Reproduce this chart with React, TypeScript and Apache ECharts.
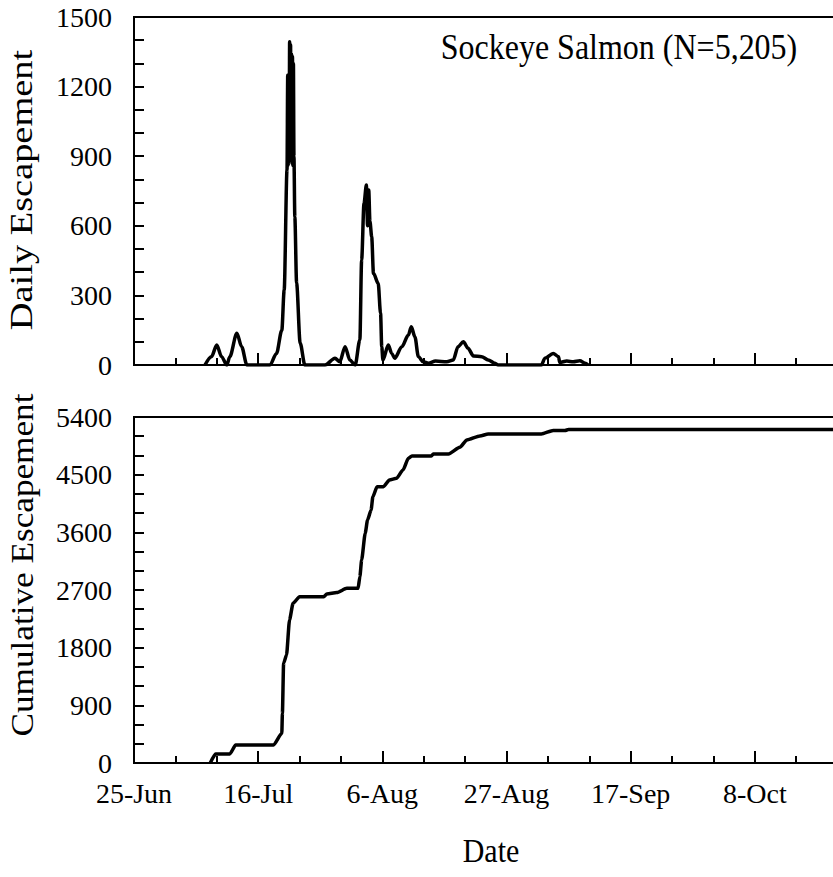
import React, { useEffect, useRef } from "react";
import * as echarts from "echarts";

// x values are days after 25-Jun
const xTickLabels = ["25-Jun", "16-Jul", "6-Aug", "27-Aug", "17-Sep", "8-Oct"];
const dailyYTicks = [0, 300, 600, 900, 1200, 1500];
const cumYTicks = [0, 900, 1800, 2700, 3600, 4500, 5400];

const dailyDay = [12, 13.1, 14, 14.8, 15.7, 16.2, 17.4, 18.2, 19.1, 23, 24.1, 25, 25.4, 25.88, 26.0, 26.08, 26.16, 26.24, 26.32, 26.4, 26.48, 26.56, 26.64, 26.72, 26.8, 26.88, 26.96, 27.05, 27.2, 27.5, 28.1, 28.9, 32.3, 34, 34.8, 35.7, 36.5, 37.4, 38.2, 38.5, 38.9, 39.3, 39.5, 39.7, 39.9, 40.2, 40.5, 41.3, 41.7, 41.9, 42.1, 43, 43.6, 44.1, 45.3, 46.4, 46.9, 47.5, 48.1, 48.9, 49.8, 51, 52.9, 54, 54.8, 55.7, 56.5, 57.4, 58.8, 59.9, 61, 61.6, 68.9, 69.5, 70.9, 71.8, 72, 73.2, 74.3, 75.4, 76.3, 76.8];
const dailyCount = [0, 36, 86, 36, 0, 36, 137, 79, 0, 0, 50, 150, 323, 840, 1250, 860, 1200, 880, 1393, 900, 1380, 880, 1340, 870, 1330, 860, 1300, 900, 639, 353, 95, 0, 0, 29, 14, 79, 22, 0, 108, 453, 697, 776, 600, 754, 620, 553, 395, 352, 223, 79, 22, 86, 50, 29, 79, 129, 165, 122, 36, 14, 8, 17, 14, 22, 79, 100, 72, 39, 36, 22, 8, 0, 0, 29, 50, 36, 11, 17, 14, 18, 8, 0];

const cumDay = [12.9, 13.8, 16.2, 17.2, 23.6, 25, 25.1, 25.3, 25.8, 26.3, 26.9, 28, 32.1, 32.6, 34.3, 36, 37.9, 38.2, 38.5, 39.1, 39.5, 40.1, 40.4, 41.1, 42.2, 43.2, 44.4, 45.5, 46.4, 47, 50.3, 50.6, 53.2, 55.1, 56.3, 58.5, 59.9, 68.9, 70.9, 72.9, 73.5, 125];
const cumCount = [0, 140, 140, 281, 281, 463, 776, 1556, 1686, 2232, 2493, 2596, 2596, 2638, 2660, 2726, 2726, 2908, 3168, 3585, 3793, 3949, 4156, 4312, 4312, 4417, 4443, 4573, 4756, 4792, 4792, 4823, 4823, 4927, 5041, 5104, 5135, 5135, 5190, 5190, 5205, 5205];

const titleText = "Sockeye Salmon (N=5,205)";
const FONT = "'Liberation Serif', 'Times New Roman', serif";

export default function App() {
  const ref = useRef<HTMLDivElement>(null);
  useEffect(() => {
    document.body.style.margin = "0";
    const chart = echarts.init(ref.current!, null, { renderer: "svg" });
    const axisLine = { show: true, lineStyle: { color: "#000", width: 2 } };
    const xAxisBase = (gridIndex: number, showLabel: boolean) => ({
      type: "value",
      gridIndex,
      min: 0,
      max: 126,
      interval: 21,
      axisLine,
      axisTick: { show: true, inside: true, length: 12, lineStyle: { color: "#000", width: 2 } },
      minorTick: { show: true, splitNumber: 3, length: 7, lineStyle: { color: "#000", width: 2 } },
      splitLine: { show: false },
      axisLabel: {
        show: showLabel,
        margin: 16,
        color: "#000",
        fontFamily: FONT,
        fontSize: 28,
        formatter: (v: number) => (v % 21 === 0 && xTickLabels[v / 21] ? xTickLabels[v / 21] : ""),
      },
    });
    const yAxisBase = (gridIndex: number, max: number, interval: number, ticks: number[]) => ({
      type: "value",
      gridIndex,
      min: 0,
      max,
      interval,
      axisLine,
      axisTick: { show: true, inside: true, length: 10, lineStyle: { color: "#000", width: 2 } },
      minorTick: { show: true, splitNumber: 3, length: 10, lineStyle: { color: "#000", width: 2 } },
      splitLine: { show: false },
      axisLabel: {
        margin: 22,
        color: "#000",
        fontFamily: FONT,
        fontSize: 28,
        formatter: (v: number) => (ticks.indexOf(v) >= 0 ? String(v) : ""),
      },
    });
    chart.setOption({
      animation: false,
      backgroundColor: "#fff",
      grid: [
        { left: 134, top: 17, right: -46, height: 348, show: true, borderColor: "#000", borderWidth: 2, containLabel: false, outerBoundsMode: "none" },
        { left: 134, top: 417, right: -46, height: 346, show: true, borderColor: "#000", borderWidth: 2, containLabel: false, outerBoundsMode: "none" },
      ],
      xAxis: [xAxisBase(0, false), xAxisBase(1, true)],
      yAxis: [yAxisBase(0, 1500, 300, dailyYTicks), yAxisBase(1, 5400, 900, cumYTicks)],
      series: [
        {
          type: "line",
          xAxisIndex: 0,
          yAxisIndex: 0,
          data: dailyDay.map((d, i) => [d, dailyCount[i]]),
          showSymbol: false,
          smooth: 0.3,
          smoothMonotone: "x",
          lineStyle: { color: "#000", width: 3.5 },
        },
        {
          type: "line",
          xAxisIndex: 1,
          yAxisIndex: 1,
          data: cumDay.map((d, i) => [d, cumCount[i]]),
          showSymbol: false,
          smooth: 0.2,
          smoothMonotone: "x",
          lineStyle: { color: "#000", width: 3.5 },
        },
      ],
      graphic: [
        {
          type: "text",
          x: 619,
          y: 46,
          scaleY: 1.15,
          style: { text: titleText, fill: "#000", font: `32px ${FONT}`, align: "center", verticalAlign: "middle" },
        },
        {
          type: "text",
          x: 22,
          y: 190,
          rotation: Math.PI / 2,
          scaleX: 1.2,
          style: { text: "Daily Escapement", fill: "#000", font: `32px ${FONT}`, align: "center", verticalAlign: "middle" },
        },
        {
          type: "text",
          x: 22,
          y: 565,
          rotation: Math.PI / 2,
          scaleX: 1.1,
          style: { text: "Cumulative Escapement", fill: "#000", font: `32px ${FONT}`, align: "center", verticalAlign: "middle" },
        },
        {
          type: "text",
          x: 491,
          y: 850,
          scaleY: 1.15,
          style: { text: "Date", fill: "#000", font: `30px ${FONT}`, align: "center", verticalAlign: "middle" },
        },
      ],
    });
    return () => chart.dispose();
  }, []);
  return <div ref={ref} style={{ width: 833, height: 877 }} />;
}
